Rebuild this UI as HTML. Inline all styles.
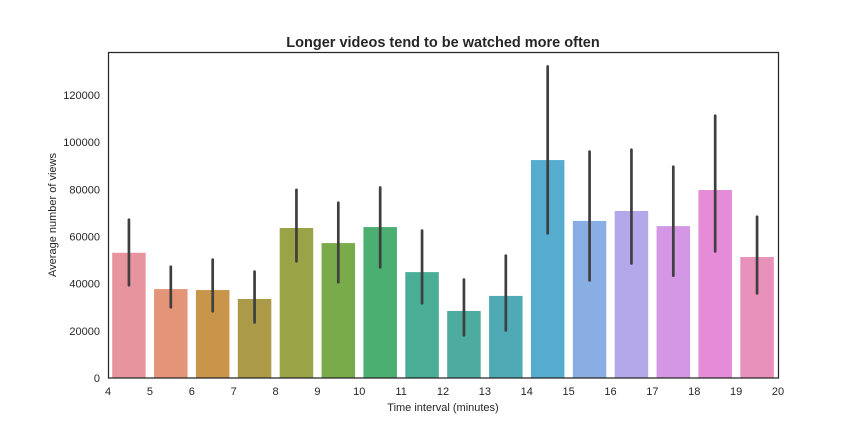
<!DOCTYPE html>
<html><head><meta charset="utf-8"><style>
html,body{margin:0;padding:0;background:#fff;}
svg{display:block;font-family:"Liberation Sans",sans-serif;}
</style></head><body>
<svg id="chart" width="864" height="432" viewBox="0 0 864 432">
<text x="443" y="47" text-anchor="middle" font-size="14.5" font-weight="bold" fill="#262626">Longer videos tend to be watched more often</text>
<g id="bars"></g><g id="errs"></g><g id="xt"></g><g id="yt"></g>
<rect x="108.5" y="52.5" width="670" height="325.5" fill="none" stroke="#262626" stroke-width="1.25"/>
<text x="443" y="411" text-anchor="middle" font-size="11" fill="#262626">Time interval (minutes)</text>
<text transform="translate(56,215) rotate(-90)" text-anchor="middle" font-size="11" fill="#262626">Average number of views</text>
</svg>
<script>
const categories=[4.5,5.5,6.5,7.5,8.5,9.5,10.5,11.5,12.5,13.5,14.5,15.5,16.5,17.5,18.5,19.5];
const values=[53100,37700,37300,33500,63600,57200,64000,44900,28400,34800,92400,66600,70800,64400,79700,51300];
const errLow=[39300,30000,28300,23600,49500,40600,46900,31700,18100,20200,61300,41400,48600,43400,53700,35900];
const errHigh=[67100,47200,50200,45100,79800,74300,80800,62500,41700,51900,132100,96000,96800,89600,111200,68400];
const colors=["#e8949f","#e59577","#c9954b","#ab9b48","#9aa446","#79ab4a","#4caf72","#4aad95","#4dab9f","#4faab5","#55acce","#89aee3","#b4a8ea","#d497e6","#e68bd8","#e891bb"];
const xTicks=[4,5,6,7,8,9,10,11,12,13,14,15,16,17,18,19,20];
const yTicks=[0,20000,40000,60000,80000,100000,120000];
const NS="http://www.w3.org/2000/svg";
const X=v=>108+(v-4)*(670/16);
const Y=v=>378-v*(47.17/20000);
function mk(t,a,p){const e=document.createElementNS(NS,t);for(const k in a)e.setAttribute(k,a[k]);p.appendChild(e);return e;}
const bw=0.8*670/16;
categories.forEach((c,i)=>{
 const r=mk('rect',{x:X(c)-bw/2,y:Y(values[i]),width:bw,height:Y(0)-Y(values[i]),fill:colors[i]},document.getElementById('bars'));
 
 
 const l=mk('line',{x1:X(c),x2:X(c),y1:Y(errLow[i]),y2:Y(errHigh[i]),stroke:'#3f3f3f','stroke-width':2.7,'stroke-linecap':'round'},document.getElementById('errs'));
 
 
});
xTicks.forEach(t=>{
 const e=mk('text',{x:X(t),y:395,'text-anchor':'middle','font-size':11,fill:'#262626'},document.getElementById('xt'));
 e.textContent=t;
 
 
});
yTicks.forEach(t=>{
 const e=mk('text',{x:100,y:Y(t)+4,'text-anchor':'end','font-size':11,fill:'#262626'},document.getElementById('yt'));
 e.textContent=t;
 
 
});
</script>
</body></html>
